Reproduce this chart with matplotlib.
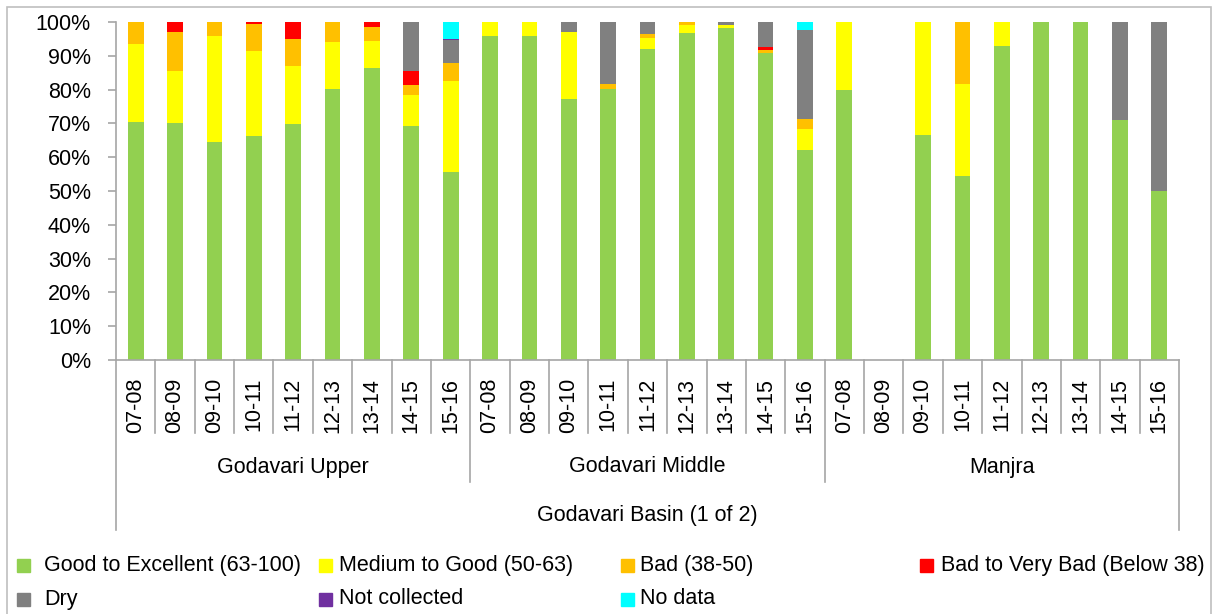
import matplotlib
matplotlib.use("Agg")
import matplotlib.pyplot as plt
import matplotlib.transforms as mtransforms
from matplotlib.patches import Rectangle
import numpy as np

plt.rcParams["font.family"] = ["Liberation Sans", "DejaVu Sans"]
plt.rcParams["font.size"] = 15.5

# ---- data (percent of sites) ----
groups = ["Godavari Upper", "Godavari Middle", "Manjra"]
years = ["07-08", "08-09", "09-10", "10-11", "11-12", "12-13", "13-14", "14-15", "15-16"]
basin_label = "Godavari Basin (1 of 2)"

good = [70.5, 70.2, 64.6, 66.4, 69.8, 80.1, 86.5, 69.3, 55.6,
        96.0, 96.0, 77.1, 80.1, 91.9, 96.8, 98.1, 90.7, 62.2,
        80.0, 0.0, 66.7, 54.5, 92.9, 100.0, 100.0, 71.0, 50.0]
medium = [23.0, 15.3, 31.3, 25.1, 17.2, 14.0, 7.9, 9.0, 27.0,
          4.0, 4.0, 19.9, 0.0, 3.4, 2.3, 1.0, 0.0, 6.2,
          20.0, 0.0, 33.3, 27.3, 7.1, 0.0, 0.0, 0.0, 0.0]
bad = [6.5, 11.6, 4.1, 8.0, 7.9, 5.9, 4.2, 3.1, 5.2,
       0.0, 0.0, 0.0, 1.5, 1.1, 0.9, 0.0, 1.1, 3.0,
       0.0, 0.0, 0.0, 18.2, 0.0, 0.0, 0.0, 0.0, 0.0]
very_bad = [0.0, 2.9, 0.0, 0.5, 5.1, 0.0, 1.4, 4.1, 0.0,
            0.0, 0.0, 0.0, 0.0, 0.0, 0.0, 0.0, 0.9, 0.0,
            0.0, 0.0, 0.0, 0.0, 0.0, 0.0, 0.0, 0.0, 0.0]
dry = [0.0, 0.0, 0.0, 0.0, 0.0, 0.0, 0.0, 14.5, 6.8,
       0.0, 0.0, 3.0, 18.4, 3.6, 0.0, 0.9, 7.3, 26.3,
       0.0, 0.0, 0.0, 0.0, 0.0, 0.0, 0.0, 29.0, 50.0]
not_collected = [0.0, 0.0, 0.0, 0.0, 0.0, 0.0, 0.0, 0.0, 0.4,
                 0.0, 0.0, 0.0, 0.0, 0.0, 0.0, 0.0, 0.0, 0.0,
                 0.0, 0.0, 0.0, 0.0, 0.0, 0.0, 0.0, 0.0, 0.0]
no_data = [0.0, 0.0, 0.0, 0.0, 0.0, 0.0, 0.0, 0.0, 5.0,
           0.0, 0.0, 0.0, 0.0, 0.0, 0.0, 0.0, 0.0, 2.3,
           0.0, 0.0, 0.0, 0.0, 0.0, 0.0, 0.0, 0.0, 0.0]

series = [
    ("Good to Excellent (63-100)", good, "#92D050"),
    ("Medium to Good (50-63)", medium, "#FFFF00"),
    ("Bad (38-50)", bad, "#FFC000"),
    ("Bad to Very Bad (Below 38)", very_bad, "#FF0000"),
    ("Dry", dry, "#808080"),
    ("Not collected", not_collected, "#7030A0"),
    ("No data", no_data, "#00FFFF"),
]

W, H = 1217, 614
fig = plt.figure(figsize=(W / 100, H / 100), dpi=100)
ax = fig.add_axes([116 / W, 1 - 360 / H, (1179 - 116) / W, (360 - 22) / H])

x = np.arange(len(good))
bottom = np.zeros(len(x))
for label, vals, color in series:
    vals = np.array(vals)
    ax.bar(x, vals, width=0.4, bottom=bottom, color=color, edgecolor="none", label=label)
    bottom += vals

axis_gray = "#A6A6A6"
ax.set_xlim(-0.5, len(x) - 0.5)
ax.set_ylim(0, 100)
ax.set_yticks(np.arange(0, 101, 10))
ax.set_yticklabels([f"{v}%" for v in range(0, 101, 10)])
ax.set_xticks(x)
ax.set_xticklabels(years * len(groups), rotation=90)
ax.tick_params(axis="x", length=0, pad=13)
ax.tick_params(axis="y", length=6, width=1.2, color=axis_gray, pad=12)
for side in ["top", "right"]:
    ax.spines[side].set_visible(False)
for side in ["left", "bottom"]:
    ax.spines[side].set_color(axis_gray)
    ax.spines[side].set_linewidth(1.2)

# multi-level category axis
trans = mtransforms.blended_transform_factory(ax.transData, fig.transFigure)
y_axis = 1 - 360 / H
y_year = 1 - 433 / H
y_group = 1 - 482 / H
y_basin = 1 - 530 / H
n = len(years)
for i in range(1, len(x)):
    if i % n == 0:
        y_end = y_group
    else:
        y_end = y_year
    ax.plot([i - 0.5, i - 0.5], [y_axis, y_end], color=axis_gray, lw=1.2,
            transform=trans, clip_on=False)
for xe in [-0.5, len(x) - 0.5]:
    ax.plot([xe, xe], [y_axis, y_basin], color=axis_gray, lw=1.2,
            transform=trans, clip_on=False)
for g, name in enumerate(groups):
    fig.text(g * n + (n - 1) / 2, 1 - 467 / H, name, transform=trans,
             ha="center", va="center")
fig.text((len(x) - 1) / 2, 1 - 516 / H, basin_label, transform=trans,
         ha="center", va="center")

# legend laid out like the spreadsheet one
marker_x = [17, 319, 621, 920]
text_x = [44, 339, 640, 941]
legend_rows = [565, 599]
for k, (label, vals, color) in enumerate(series):
    r, c = divmod(k, 4)
    py = legend_rows[r]
    fig.patches.append(Rectangle((marker_x[c] / W, (H - py - 6.5) / H), 13 / W, 13 / H,
                                 transform=fig.transFigure, color=color))
    fig.text(text_x[c] / W, 1 - py / H, label, ha="left", va="center")

# outer frame
fig.patches.append(Rectangle((7 / W, -0.01), (1211 - 7) / W, (H - 7) / H + 0.01,
                             transform=fig.transFigure, fill=False,
                             edgecolor="#BFBFBF", lw=1.2))

fig.savefig("out.png", dpi=100)
